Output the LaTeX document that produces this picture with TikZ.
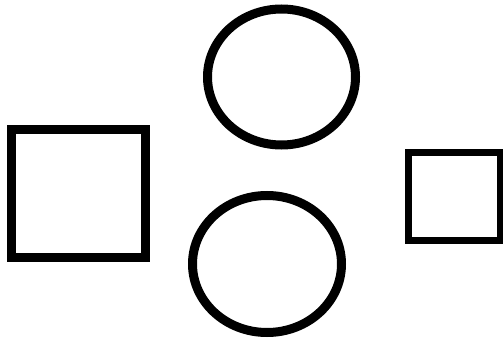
\documentclass[tikz,border=0pt]{standalone}
\usepackage{tikz}
\usetikzlibrary{shapes.geometric}

\begin{document}
\begin{tikzpicture}[x=1pt, y=-1pt,
                    box/.style={draw, rectangle, line width=9pt, inner sep=0pt},
                    oval/.style={draw, ellipse, line width=9pt, inner sep=0pt, minimum width=148pt, minimum height=136pt}]
    \useasboundingbox (0, 0) rectangle (503, 339);

    % Squares
    \node[box, minimum width=134.5pt, minimum height=127pt] (leftbox) at (78.25, 193.5) {};
    \node[box, line width=7pt, minimum width=91.5pt, minimum height=87.5pt] (rightbox) at (454.25, 196.75) {};

    % Ovals
    \node[oval] (topoval) at (281.5, 77) {};
    \node[oval, minimum width=149pt, minimum height=137pt] (bottomoval) at (267, 264) {};

\end{tikzpicture}
\end{document}
